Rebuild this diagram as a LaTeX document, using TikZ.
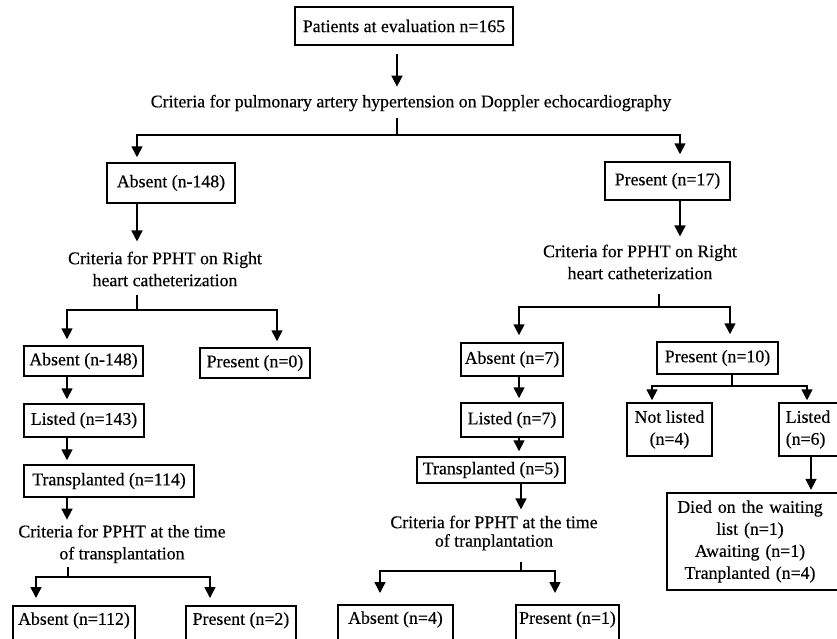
\documentclass[tikz,border=0pt]{standalone}
\usepackage{fontspec}
\setmainfont{Liberation Serif}[FakeBold=0.4]
\usetikzlibrary{arrows.meta,calc}
\begin{document}
\begin{tikzpicture}[x=1pt,y=-1pt,
  every node/.style={font=\fontsize{17.8}{22}\selectfont},
  box/.style 2 args={draw, line width=1.5pt, inner sep=0pt, minimum width=#1pt, minimum height=#2pt},
  btm/.style={draw, line width=1.5pt, inner sep=0pt, anchor=north, text height=19pt, text depth=26pt},
  crit/.style={align=center, inner sep=0pt},
  ln/.style={line width=1.6pt},
  arr/.style={line width=1.6pt, -{Triangle[width=11pt,length=11pt]}},
  frame/.style={draw, line width=1.5pt}]
\useasboundingbox (0,0) rectangle (837,638);
\fill[white] (0,0) rectangle (837,638);
\clip (0,0) rectangle (837,638);

% column / junction coordinates
\coordinate (k1) at (397,0);
\coordinate (k2) at (137,0);
\coordinate (k3) at (680,0);
\coordinate (k4) at (659,0);
\coordinate (k5) at (67,0);
\coordinate (k6) at (277,0);
\coordinate (k7) at (36,0);
\coordinate (k8) at (210,0);
\coordinate (k9) at (519,0);
\coordinate (k9b) at (521,0);
\coordinate (k10) at (730,0);
\coordinate (k10b) at (732,0);
\coordinate (k11) at (380,0);
\coordinate (k12) at (555,0);
\coordinate (k13) at (652,0);
\coordinate (k14) at (807,0);
\coordinate (k15) at (811,0);
\coordinate (j1) at (397,135);
\coordinate (j2) at (137,310);
\coordinate (j3) at (68,577);
\coordinate (j4) at (659,307);
\coordinate (j5) at (521,571);
\coordinate (j6) at (732,386);

% nodes
\node[box={218}{38}] (top) at (404,26) {Patients at evaluation n=165};
\node[crit] (crit1) at (411,103) {Criteria for pulmonary artery hypertension on Doppler echocardiography};
\node[box={128}{40}] (absA) at (171,183) {Absent (n-148)};
\node[box={125}{38}] (presA) at (667.5,181) {Present (n=17)};

\node[crit] (crit2L) at (165,269) {Criteria for PPHT on Right\\heart catheterization};
\node[box={119}{30}] (absB) at (83.5,361) {Absent (n-148)};
\node[box={110}{30}] (presB) at (255,363) {Present (n=0)};
\node[box={120}{33}] (listB) at (84,420.5) {Listed (n=143)};
\node[box={170}{32}] (transB) at (109,481) {Transplanted (n=114)};
\node[crit] (crit3L) at (122,544) {Criteria for PPHT at the time\\of transplantation};
\node[btm, minimum width=122pt] (absC) at (74,605) {Absent (n=112)};
\node[btm, minimum width=110pt] (presC) at (241,605) {Present (n=2)};

\node[crit] (crit2R) at (640,262) {Criteria for PPHT on Right\\heart catheterization};
\node[box={102}{33}] (absR) at (512,359.5) {Absent (n=7)};
\node[box={121}{32}] (presR) at (717.5,358) {Present (n=10)};
\node[box={102}{34}] (listR) at (512,420) {Listed (n=7)};
\node[box={148}{26}] (transR) at (491,470) {Transplanted (n=5)};
\node[crit, font=\fontsize{17.8}{18.5}\selectfont] (crit3R) at (494,533) {Criteria for PPHT at the time\\of tranplantation};
\node[btm, minimum width=115pt] (absD) at (395.5,604) {Absent (n=4)};
\node[btm, minimum width=103pt] (presD) at (567.5,604) {Present (n=1)};

\node[box={85}{53}, align=center] (notlist) at (669.5,429.5) {Not listed\\(n=4)};
\node[box={76}{53}, anchor=west, inner xsep=7pt, text width=62pt, align=left] (listed6) at (778,429.5) {Listed\\(n=6)};
\node[crit, text width=166pt, minimum height=97pt] (died) at (750,541.5) {Died on the waiting\\list (n=1)\\Awaiting (n=1)\\Tranplanted (n=4)};
\draw[frame] (died.north west) rectangle ($(died.south east)+(30,0)$);

% connectors
\draw[arr, shorten <=8pt, shorten >=8pt] (top.south -| k1) -- (crit1.north -| k1);
\draw[ln, shorten <=7pt] (crit1.south -| k1) -- (j1);
\draw[arr, shorten >=5pt] (j1) -| (absA.north -| k2);
\draw[arr, shorten >=7pt] (j1) -| (presA.north -| k3);

\draw[arr, shorten >=10pt] (absA.south -| k2) -- (crit2L.north -| k2);
\draw[ln, shorten <=8pt] (crit2L.south -| k2) -- (j2);
\draw[arr, shorten >=6pt] (j2) -| (absB.north -| k5);
\draw[arr, shorten >=6pt] (j2) -| (presB.north -| k6);
\draw[arr, shorten >=4pt] (absB.south -| k5) -- (listB.north -| k5);
\draw[arr, shorten >=4pt] (listB.south -| k5) -- (transB.north -| k5);
\draw[arr, shorten >=5pt] (transB.south -| k5) -- (crit3L.north -| k5);
\draw[ln, shorten <=4pt] (crit3L.south -| j3) -- (j3);
\draw[arr, shorten >=7pt] (j3) -| (absC.north -| k7);
\draw[arr, shorten >=7pt] (j3) -| (presC.north -| k8);

\draw[arr, shorten >=8pt] (presA.south -| k3) -- (crit2R.north -| k3);
\draw[ln, shorten <=14pt] (crit2R.south -| k4) -- (j4);
\draw[arr, shorten >=7pt] (j4) -| (absR.north -| k9);
\draw[arr, shorten >=7pt] (j4) -| (presR.north -| k10);
\draw[arr, shorten >=4pt] (absR.south -| k9) -- (listR.north -| k9);
\draw[arr, shorten >=5pt] (listR.south -| k9) -- (transR.north -| k9);
\draw[arr, shorten >=6pt] (transR.south -| k9b) -- (crit3R.north -| k9b);
\draw[ln, shorten <=11pt] (crit3R.south -| k9b) -- (j5);
\draw[arr, shorten >=11pt] (j5) -| (absD.north -| k11);
\draw[arr, shorten >=11pt] (j5) -| (presD.north -| k12);

\draw[ln] (presR.south -| k10b) -- (j6);
\draw[arr, shorten >=2pt] (j6) -| (notlist.north -| k13);
\draw[arr, shorten >=2pt] (j6) -| (listed6.north -| k14);
\draw[arr, shorten >=3pt] (listed6.south -| k15) -- (died.north -| k15);
\end{tikzpicture}
\end{document}
